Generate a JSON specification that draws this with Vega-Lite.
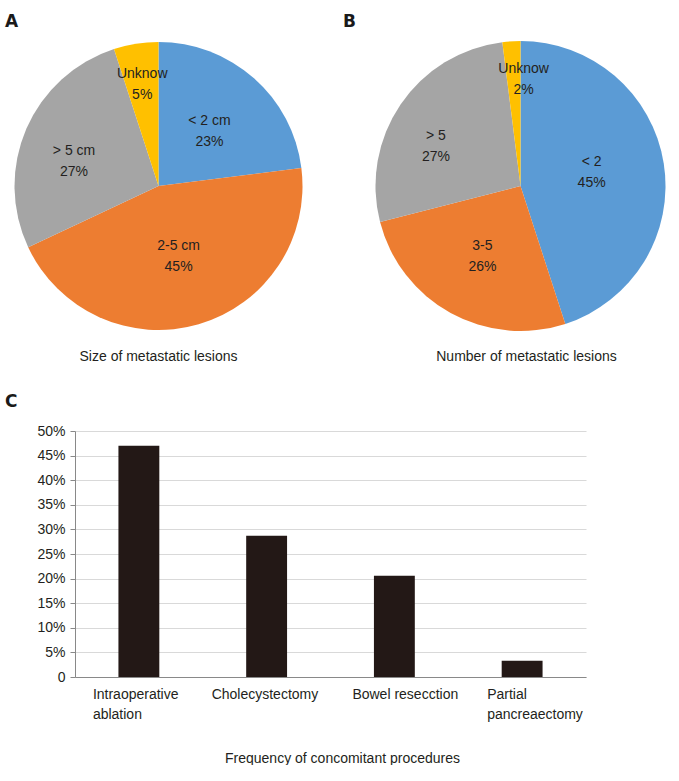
{
  "$schema": "https://vega.github.io/schema/vega-lite/v6.json",
  "background": "white",
  "padding": {"left": 5, "top": 13, "right": 0, "bottom": 0},
  "config": {
    "font": "Liberation Sans",
    "view": {"stroke": null},
    "title": {"font": "DejaVu Sans", "fontSize": 17, "fontWeight": "bold", "color": "#1a1a1a"}
  },
  "datasets": {
    "size": [
      {"k": 1, "cat": "< 2 cm", "pct": 23},
      {"k": 2, "cat": "2-5 cm", "pct": 45},
      {"k": 3, "cat": "> 5 cm", "pct": 27},
      {"k": 4, "cat": "Unknow", "pct": 5}
    ],
    "number": [
      {"k": 1, "cat": "< 2", "pct": 45},
      {"k": 2, "cat": "3-5", "pct": 26},
      {"k": 3, "cat": "> 5", "pct": 27},
      {"k": 4, "cat": "Unknow", "pct": 2}
    ],
    "procedures": [
      {"proc": "Intraoperative ablation", "freq": 0.47},
      {"proc": "Cholecystectomy", "freq": 0.287},
      {"proc": "Bowel resecction", "freq": 0.206},
      {"proc": "Partial pancreaectomy", "freq": 0.033}
    ]
  },
  "vconcat": [
    {
      "hconcat": [
        {
          "title": {"text": "Size of metastatic lesions", "orient": "bottom", "anchor": "middle", "font": "Liberation Sans", "fontSize": 14, "fontWeight": "normal", "color": "#231f20", "baseline": "middle", "offset": 21},
          "vconcat": [
            {
              "width": 307,
              "height": 300,
              "title": {"text": "A", "anchor": "start", "frame": "group", "baseline": "alphabetic", "offset": -8, "dx": 0},
              "data": {"name": "size"},
              "transform": [{"calculate": "datum.cat + '\\n' + datum.pct + '%'", "as": "lbl"}],
              "encoding": {
                "theta": {"field": "pct", "type": "quantitative", "stack": true},
                "order": {"field": "k", "type": "quantitative"},
                "detail": {"field": "cat", "type": "nominal"}
              },
              "layer": [
                {
                  "mark": {"type": "arc", "radius": 144},
                  "encoding": {
                    "color": {"field": "cat", "type": "nominal", "legend": null,
                      "scale": {"domain": ["< 2 cm", "2-5 cm", "> 5 cm", "Unknow"], "range": ["#5B9BD5", "#ED7D31", "#A5A5A5", "#FFC000"]}}
                  }
                },
                {
                  "mark": {"type": "text", "radius": 77, "dy": -7, "fontSize": 14, "lineHeight": 21, "lineBreak": "\n", "color": "#231f20", "baseline": "middle"},
                  "encoding": {"text": {"condition": {"test": "datum.k == 1", "field": "lbl"}, "value": ""}}
                },
                {
                  "mark": {"type": "text", "radius": 72, "dy": -9, "fontSize": 14, "lineHeight": 21, "lineBreak": "\n", "color": "#231f20", "baseline": "middle"},
                  "encoding": {"text": {"condition": {"test": "datum.k == 2", "field": "lbl"}, "value": ""}}
                },
                {
                  "mark": {"type": "text", "radius": 92, "dy": 2, "fontSize": 14, "lineHeight": 21, "lineBreak": "\n", "color": "#231f20", "baseline": "middle"},
                  "encoding": {"text": {"condition": {"test": "datum.k == 3", "field": "lbl"}, "value": ""}}
                },
                {
                  "mark": {"type": "text", "radius": 104, "dy": -9, "fontSize": 14, "lineHeight": 21, "lineBreak": "\n", "color": "#231f20", "baseline": "middle"},
                  "encoding": {"text": {"condition": {"test": "datum.k == 4", "field": "lbl"}, "value": ""}}
                }
              ]
            }
          ]
        },
        {
          "title": {"text": "Number of metastatic lesions", "orient": "bottom", "anchor": "middle", "font": "Liberation Sans", "fontSize": 14, "fontWeight": "normal", "color": "#231f20", "baseline": "middle", "offset": 21, "dx": 18},
          "vconcat": [
            {
              "width": 307,
              "height": 300,
              "title": {"text": "B", "anchor": "start", "frame": "group", "baseline": "alphabetic", "offset": -8, "dx": -24},
              "data": {"name": "number"},
              "transform": [{"calculate": "datum.cat + '\\n' + datum.pct + '%'", "as": "lbl"}],
              "encoding": {
                "theta": {"field": "pct", "type": "quantitative", "stack": true},
                "order": {"field": "k", "type": "quantitative"},
                "detail": {"field": "cat", "type": "nominal"}
              },
              "layer": [
                {
                  "mark": {"type": "arc", "radius": 145},
                  "encoding": {
                    "color": {"field": "cat", "type": "nominal", "legend": null,
                      "scale": {"domain": ["< 2", "3-5", "> 5", "Unknow"], "range": ["#5B9BD5", "#ED7D31", "#A5A5A5", "#FFC000"]}}
                  }
                },
                {
                  "mark": {"type": "text", "radius": 72, "dy": -13, "fontSize": 14, "lineHeight": 21, "lineBreak": "\n", "color": "#231f20", "baseline": "middle"},
                  "encoding": {"text": {"condition": {"test": "datum.k == 1", "field": "lbl"}, "value": ""}}
                },
                {
                  "mark": {"type": "text", "radius": 79, "dy": -9, "fontSize": 14, "lineHeight": 21, "lineBreak": "\n", "color": "#231f20", "baseline": "middle"},
                  "encoding": {"text": {"condition": {"test": "datum.k == 2", "field": "lbl"}, "value": ""}}
                },
                {
                  "mark": {"type": "text", "radius": 95, "dx": -6, "dy": 3, "fontSize": 14, "lineHeight": 21, "lineBreak": "\n", "color": "#231f20", "baseline": "middle"},
                  "encoding": {"text": {"condition": {"test": "datum.k == 3", "field": "lbl"}, "value": ""}}
                },
                {
                  "mark": {"type": "text", "radius": 109, "dx": 10, "dy": -8, "fontSize": 14, "lineHeight": 21, "lineBreak": "\n", "color": "#231f20", "baseline": "middle"},
                  "encoding": {"text": {"condition": {"test": "datum.k == 4", "field": "lbl"}, "value": ""}}
                }
              ]
            }
          ]
        }
      ],
      "spacing": 31
    },
    {
      "width": 581,
      "height": 246,
      "title": {"text": "C", "anchor": "start", "frame": "group", "dx": 0, "baseline": "alphabetic", "offset": 0},
      "data": {"name": "procedures"},
      "mark": {"type": "bar", "color": "#231816"},
      "encoding": {
        "x": {
          "field": "proc", "type": "nominal", "sort": null,
          "scale": {"range": [70, 581], "paddingInner": 0.68, "paddingOuter": 0.34},
          "axis": {
            "title": "Frequency of concomitant procedures",
            "titleFont": "Liberation Sans", "titleFontSize": 14, "titleFontWeight": "normal", "titleColor": "#231f20",
            "titlePadding": 30, "titleX": 337,
            "labelAngle": 0, "labelFontSize": 14, "labelColor": "#231f20", "labelLimit": 0,
            "labelAlign": "left", "labelPadding": 10, "labelLineHeight": 20,
            "labelExpr": "datum.value == 'Intraoperative ablation' ? ['Intraoperative', 'ablation'] : datum.value == 'Partial pancreaectomy' ? ['Partial', 'pancreaectomy'] : datum.value",
            "labelOffset": {"condition": [
              {"test": "datum.value == 'Intraoperative ablation'", "value": -46},
              {"test": "datum.value == 'Cholecystectomy'", "value": -55},
              {"test": "datum.value == 'Partial pancreaectomy'", "value": -35}
            ], "value": -42},
            "ticks": false, "domainColor": "#898989", "grid": false
          }
        },
        "y": {
          "field": "freq", "type": "quantitative",
          "scale": {"domain": [0, 0.5], "nice": false},
          "axis": {
            "title": null, "offset": -70,
            "values": [0, 0.05, 0.1, 0.15, 0.2, 0.25, 0.3, 0.35, 0.4, 0.45, 0.5],
            "labelExpr": "datum.value == 0 ? '0' : format(datum.value, '.0%')",
            "labelFontSize": 14, "labelColor": "#231f20", "labelPadding": 5,
            "tickSize": 5, "tickColor": "#898989", "domainColor": "#898989",
            "gridColor": "#d9d9d9"
          }
        }
      }
    }
  ],
  "spacing": 29
}
